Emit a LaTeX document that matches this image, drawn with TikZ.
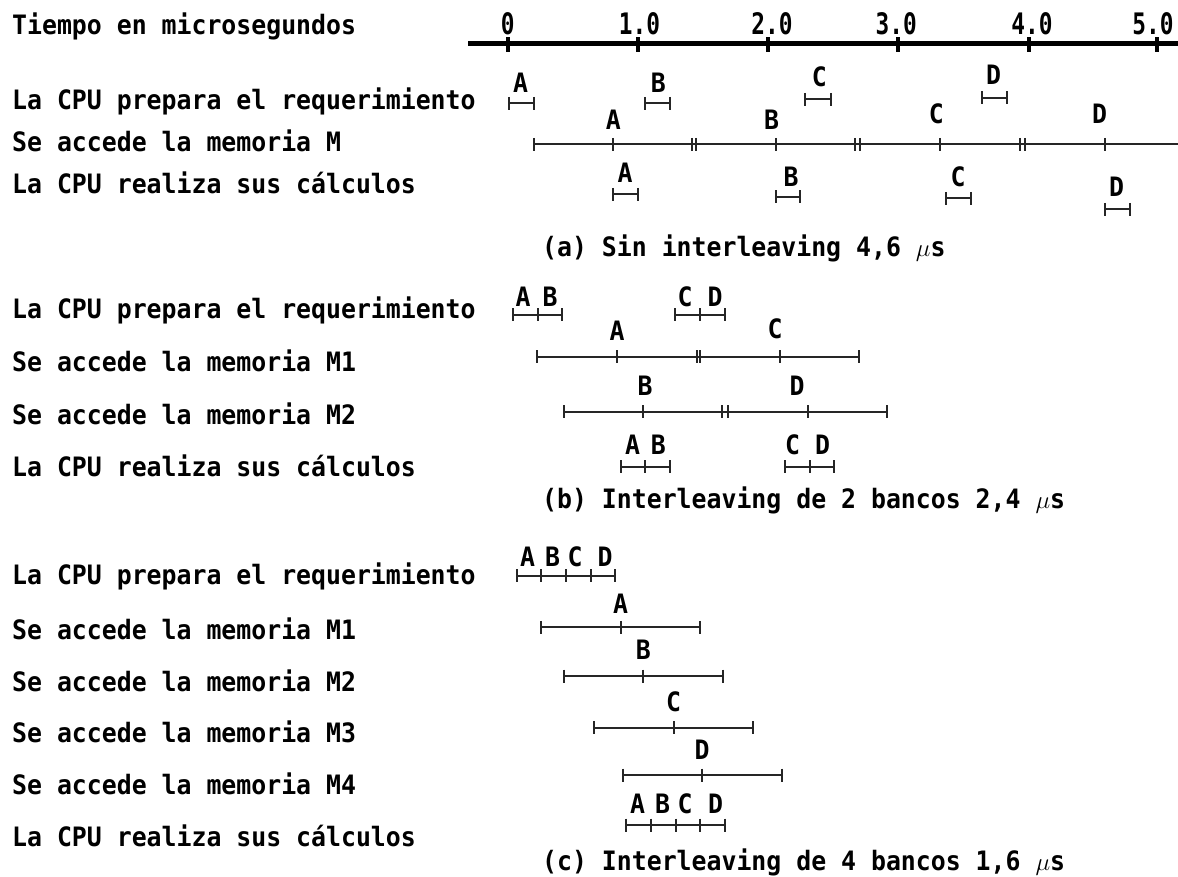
\documentclass[tikz,border=0pt]{standalone}
\usepackage{fontspec}
\newfontfamily\monofnt{DejaVu Sans Mono}[FakeStretch=0.93]
\newfontfamily\axisfnt{DejaVu Sans Mono}[FakeStretch=0.77]
\newcommand\tbar[3]{%
  \draw[barline] (#1,#3) -- (#2,#3);
  \foreach \tx in {#1,#2} {\draw[barline] (\tx,#3-6.5) -- (\tx,#3+6.5);}}
\newcommand\tticks[2]{%
  \foreach \tx in {#2} {\draw[barline] (\tx,#1-6.5) -- (\tx,#1+6.5);}}
\begin{document}
\begin{tikzpicture}[x=1pt,y=-1pt,
  txt/.style={anchor=base west,inner sep=0pt,font=\monofnt\bfseries\fontsize{26.7}{30}\selectfont},
  let/.style={anchor=center,inner sep=0pt,font=\monofnt\bfseries\fontsize{26.7}{30}\selectfont},
  axlab/.style={anchor=center,inner sep=0pt,font=\axisfnt\bfseries\fontsize{29.6}{32}\selectfont},
  barline/.style={line width=2pt,black!85},
  axisline/.style={line width=5pt,black},
  axistick/.style={line width=4pt,black}]
\useasboundingbox (0,0) rectangle (1178,877);
% ---------- axis ----------
\node[txt] (tiempo) at (12,35) {Tiempo en microsegundos};
\draw[axisline] (468,44) -- (1178,44);
\foreach \tx in {507.7,637.7,767.7,898,1028.7,1157.3} {\draw[axistick] (\tx,37.5) -- (\tx,52.5);}
\node[axlab] (t0) at (507.7,23.5) {0};
\node[axlab] (t1) at (639.5,23.5) {1.0};
\node[axlab] (t2) at (772,23.5) {2.0};
\node[axlab] (t3) at (896.3,23.5) {3.0};
\node[axlab] (t4) at (1032,23.5) {4.0};
\node[axlab] (t5) at (1153,23.5) {5.0};
% ---------- panel (a) ----------
\node[txt] (a1) at (12,110) {La CPU prepara el requerimiento};
\node[txt] (a2) at (12,152) {Se accede la memoria M};
\node[txt] (a3) at (12,193.5) {La CPU realiza sus cálculos};
\tbar{509}{534}{103.3}
\tbar{645.3}{670.3}{103.3}
\tbar{805.3}{831}{99.3}
\tbar{981.7}{1007}{97.7}
\node[let] (apA) at (520.7,83) {A};
\node[let] (apB) at (658.3,83) {B};
\node[let] (apC) at (819.3,76.7) {C};
\node[let] (apD) at (993.7,75) {D};
\draw[barline] (533.7,144.3) -- (1178,144.3);
\tticks{144.3}{533.7,613.3,692.3,696,775.7,855.3,860.3,940.3,1020.3,1025.3,1104.7}
\node[let] (amA) at (613.3,119.7) {A};
\node[let] (amB) at (771.7,119.7) {B};
\node[let] (amC) at (936.3,114) {C};
\node[let] (amD) at (1099.7,114) {D};
\tbar{613}{638}{194.3}
\tbar{775.7}{800.3}{196.7}
\tbar{945.7}{971.3}{198.3}
\tbar{1104.7}{1129.7}{209.3}
\node[let] (acA) at (625,172.5) {A};
\node[let] (acB) at (791,176.7) {B};
\node[let] (acC) at (958,176.7) {C};
\node[let] (acD) at (1116.7,186.7) {D};
\node[txt] (capa) at (542,256.7) {(a) Sin interleaving 4,6 $\mu$s};
% ---------- panel (b) ----------
\node[txt] (b1) at (12,318.5) {La CPU prepara el requerimiento};
\node[txt] (b2) at (12,371.5) {Se accede la memoria M1};
\node[txt] (b3) at (12,424.5) {Se accede la memoria M2};
\node[txt] (b4) at (12,476.5) {La CPU realiza sus cálculos};
\draw[barline] (512.7,315) -- (562,315);
\tticks{315}{512.7,538,562}
\draw[barline] (675,315) -- (725,315);
\tticks{315}{675,700,725}
\node[let] (bpA) at (523,297) {A};
\node[let] (bpB) at (550,297) {B};
\node[let] (bpC) at (685,297) {C};
\node[let] (bpD) at (715,297) {D};
\draw[barline] (537.3,356.7) -- (859,356.7);
\tticks{356.7}{537.3,617,696.7,700,779.7,859}
\node[let] (bmA) at (617,331) {A};
\node[let] (bmC) at (775,329) {C};
\draw[barline] (563.7,411.7) -- (887.3,411.7);
\tticks{411.7}{563.7,643.3,722.3,727.7,808.3,887.3}
\node[let] (bmB) at (645,386) {B};
\node[let] (bmD) at (797,386) {D};
\draw[barline] (620.7,466.7) -- (670,466.7);
\tticks{466.7}{620.7,645.3,670}
\draw[barline] (785.3,466.7) -- (834.3,466.7);
\tticks{466.7}{785.3,810,834.3}
\node[let] (bcA) at (632.7,445) {A};
\node[let] (bcB) at (658.3,445) {B};
\node[let] (bcC) at (792.7,445) {C};
\node[let] (bcD) at (822.7,445) {D};
\node[txt] (capb) at (542,508) {(b) Interleaving de 2 bancos 2,4 $\mu$s};
% ---------- panel (c) ----------
\node[txt] (c1) at (12,584.5) {La CPU prepara el requerimiento};
\node[txt] (c2) at (12,639.5) {Se accede la memoria M1};
\node[txt] (c3) at (12,691.5) {Se accede la memoria M2};
\node[txt] (c4) at (12,742.5) {Se accede la memoria M3};
\node[txt] (c5) at (12,794.5) {Se accede la memoria M4};
\node[txt] (c6) at (12,846.5) {La CPU realiza sus cálculos};
\draw[barline] (516.7,575.7) -- (615.3,575.7);
\tticks{575.7}{516.7,541,566,590.7,615.3}
\node[let] (cpA) at (527.7,556.7) {A};
\node[let] (cpB) at (552.7,556.7) {B};
\node[let] (cpC) at (575,556.7) {C};
\node[let] (cpD) at (605,556.7) {D};
\draw[barline] (541,627.3) -- (700,627.3);
\tticks{627.3}{541,620.7,700}
\node[let] (cmA) at (620.7,603.3) {A};
\draw[barline] (563.7,676) -- (723,676);
\tticks{676}{563.7,643.3,723}
\node[let] (cmB) at (643.3,650) {B};
\draw[barline] (594.3,727.7) -- (753.3,727.7);
\tticks{727.7}{594.3,673.7,753.3}
\node[let] (cmC) at (673.7,701.7) {C};
\draw[barline] (622.7,775) -- (781.7,775);
\tticks{775}{622.7,702,781.7}
\node[let] (cmD) at (702,750) {D};
\draw[barline] (626.3,825) -- (725,825);
\tticks{825}{626.3,651,675.7,700.3,725}
\node[let] (ccA) at (637.7,803.3) {A};
\node[let] (ccB) at (662.7,803.3) {B};
\node[let] (ccC) at (685,803.3) {C};
\node[let] (ccD) at (715.7,803.3) {D};
\node[txt] (capc) at (542,870) {(c) Interleaving de 4 bancos 1,6 $\mu$s};
\end{tikzpicture}
\end{document}
